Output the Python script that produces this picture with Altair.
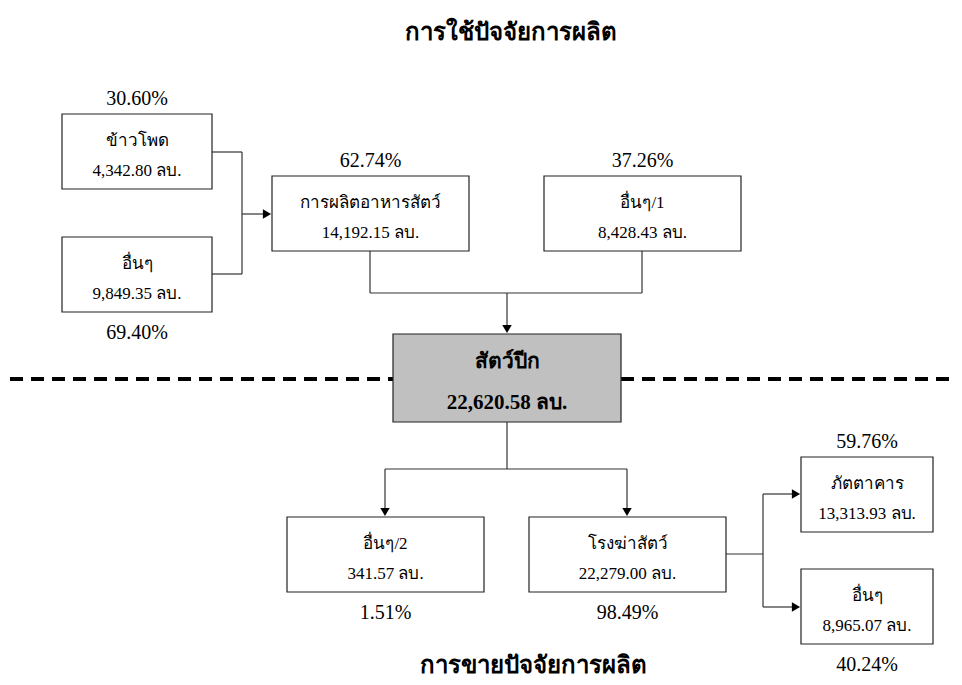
import altair as alt
import pandas as pd

# ---------------- data ----------------
names = ["ข้าวโพด", "อื่นๆ", "การผลิตอาหารสัตว์", "อื่นๆ/1", "สัตว์ปีก",
         "อื่นๆ/2", "โรงฆ่าสัตว์", "ภัตตาคาร", "อื่นๆ"]
values = [4342.80, 9849.35, 14192.15, 8428.43, 22620.58,
          341.57, 22279.00, 13313.93, 8965.07]
shares = [30.60, 69.40, 62.74, 37.26, None, 1.51, 98.49, 59.76, 40.24]
title_top = "การใช้ปัจจัยการผลิต"
title_bottom = "การขายปัจจัยการผลิต"
unit = "ลบ."

# ---------------- layout (pixel coordinates) ----------------
box_x0 = [62, 62, 272, 544, 393, 287, 529, 801, 801]
box_x1 = [212, 212, 469, 741, 621, 484, 726, 933, 933]
box_y0 = [114, 237, 176, 176, 334, 517, 517, 457, 569]
box_y1 = [189, 312, 251, 251, 422, 592, 592, 532, 644]
share_pos = ["above", "below", "above", "above", None, "below", "below", "above", "below"]
highlight = 4

segments = [
    (212, 152, 242, 152), (212, 274, 242, 274), (242, 152, 242, 274), (242, 214, 266, 214),
    (370, 251, 370, 293), (642, 251, 642, 293), (370, 293, 642, 293), (507, 293, 507, 328),
    (507, 422, 507, 469), (385, 469, 627, 469), (385, 469, 385, 511), (627, 469, 627, 511),
    (726, 554, 763, 554), (763, 494, 763, 607), (763, 494, 795, 494), (763, 607, 795, 607),
]
arrows_right = [(267, 214), (796, 494), (796, 607)]
arrows_down = [(507, 329), (385, 512), (627, 512)]
dashes = [(10, 379, 393, 379), (621, 379, 962, 379)]

FONT = "Times New Roman, Liberation Serif, serif"

box_df = pd.DataFrame({
    "x0": box_x0, "x1": box_x1, "y0": box_y0, "y1": box_y1,
    "fill": ["#c0c0c0" if i == highlight else "white" for i in range(len(names))],
})

lab_rows, val_rows, hl_rows, pct_rows = [], [], [], []
for i, (n, v, s) in enumerate(zip(names, values, shares)):
    cx = (box_x0[i] + box_x1[i]) / 2
    vtxt = f"{v:,.2f} {unit}"
    if i == highlight:
        hl_rows.append({"x": cx, "y": box_y0[i] + 28, "t": n})
        hl_rows.append({"x": cx, "y": box_y0[i] + 69, "t": vtxt})
    else:
        lab_rows.append({"x": cx, "y": box_y0[i] + 27, "t": n})
        val_rows.append({"x": cx, "y": box_y0[i] + 57, "t": vtxt})
    if s is not None:
        py = box_y0[i] - 15 if share_pos[i] == "above" else box_y1[i] + 21
        pct_rows.append({"x": cx, "y": py, "t": f"{s:.2f}%"})

title_df = pd.DataFrame([
    {"x": 511, "y": 33, "t": title_top},
    {"x": 533, "y": 666, "t": title_bottom},
])

xs = alt.Scale(domain=[8, 954], nice=False, zero=False)
ys = alt.Scale(domain=[8, 677], reverse=True, nice=False, zero=False)


def X(f):
    return alt.X(f"{f}:Q", scale=xs, axis=None)


def Y(f):
    return alt.Y(f"{f}:Q", scale=ys, axis=None)


seg_df = pd.DataFrame(segments, columns=["x", "y", "x2", "y2"])
dash_df = pd.DataFrame(dashes, columns=["x", "y", "x2", "y2"])
ar_df = pd.DataFrame(arrows_right, columns=["x", "y"])
ad_df = pd.DataFrame(arrows_down, columns=["x", "y"])

dash_layer = alt.Chart(dash_df).mark_rule(color="black", strokeWidth=4, strokeDash=[13, 8]).encode(
    x=X("x"), y=Y("y"), x2="x2", y2="y2")
seg_layer = alt.Chart(seg_df).mark_rule(color="#333333", strokeWidth=1.2).encode(
    x=X("x"), y=Y("y"), x2="x2", y2="y2")
rect_layer = alt.Chart(box_df).mark_rect(stroke="#222222", strokeWidth=1.2).encode(
    x=X("x0"), x2="x1", y=Y("y0"), y2="y1", fill=alt.Fill("fill:N", scale=None))
ar_layer = alt.Chart(ar_df).mark_point(shape="triangle-right", filled=True, size=90,
                                       color="black", opacity=1).encode(x=X("x"), y=Y("y"))
ad_layer = alt.Chart(ad_df).mark_point(shape="triangle-down", filled=True, size=90,
                                       color="black", opacity=1).encode(x=X("x"), y=Y("y"))


def text_layer(rows, size, weight="normal"):
    return alt.Chart(pd.DataFrame(rows)).mark_text(
        font=FONT, fontSize=size, fontWeight=weight, color="black",
        align="center", baseline="middle").encode(x=X("x"), y=Y("y"), text="t:N")


chart = alt.layer(
    dash_layer, seg_layer, rect_layer, ar_layer, ad_layer,
    text_layer(lab_rows, 17), text_layer(val_rows, 17),
    text_layer(hl_rows, 21, "bold"), text_layer(pct_rows, 20),
    text_layer(title_df.to_dict("records"), 24, "bold"),
).properties(
    width=946, height=669, autosize=alt.AutoSizeParams(type="none"), padding=0
).configure_view(stroke=None)

chart.save("out.html", embed_options={"renderer": "svg", "actions": False})
